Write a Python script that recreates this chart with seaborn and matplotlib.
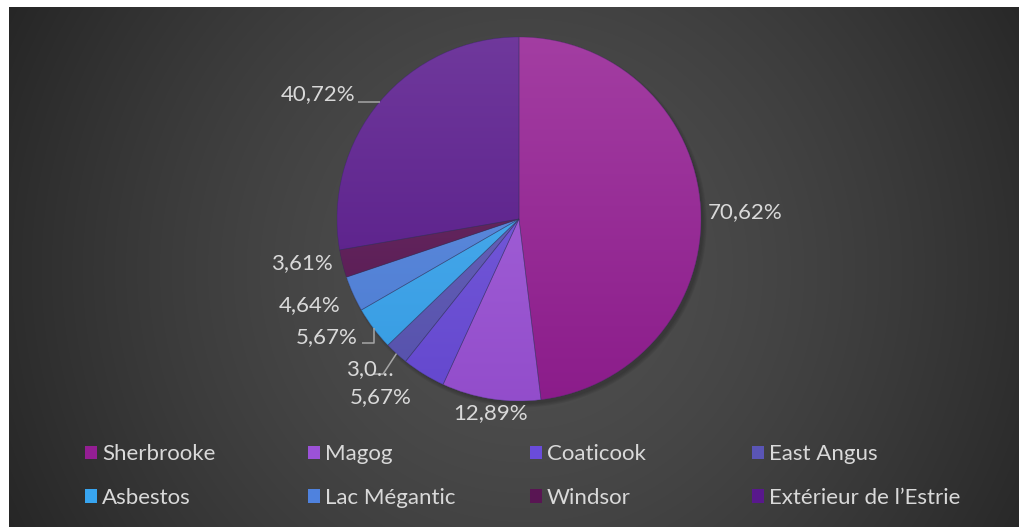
import numpy as np
import matplotlib
matplotlib.use("Agg")
import matplotlib.pyplot as plt
import matplotlib.colors as mcolors
from matplotlib.patches import Circle
import seaborn as sns

# donnees du graphique
villes = ["Sherbrooke", "Magog", "Coaticook", "East Angus",
          "Asbestos", "Lac Mégantic", "Windsor", "Extérieur de l\u2019Estrie"]
valeurs = [70.62, 12.89, 5.67, 3.09, 5.67, 4.64, 3.61, 40.72]
couleurs = ["#941E93", "#9C52D8", "#6A4CDB", "#5A55B6",
            "#38A5F0", "#4F82DE", "#591553", "#58188C"]

etiquettes = [f"{v:.2f}%".replace(".", ",") for v in valeurs]
etiquettes[3] = etiquettes[3][:3] + "\u2026"   # tronquee comme dans Excel

# position des etiquettes (unites du rayon)
pos_etiq = [(1.242, 0.038), (-0.159, -1.066), (-0.758, -0.978), (-0.819, -0.824),
            (-1.055, -0.648), (-1.148, -0.473), (-1.192, -0.242), (-1.104, 0.687)]

sns.set_theme(style="white")
plt.rcParams["font.family"] = ["Lato", "DejaVu Sans"]
gris_txt = "#D9D9D9"
W, H = 1019, 527
fig = plt.figure(figsize=(W / 100, H / 100), dpi=100, facecolor="white")

# fond en degrade radial
bg = fig.add_axes([9 / W, 0, 1 - 9 / W, 520 / H])
xx, yy = np.meshgrid(np.arange(9, W), np.arange(7, H))
d = np.hypot(xx - 525, yy - 270) / 580
v = (80 - 42 * np.clip(d, 0, 1.2) ** 1.5) / 255
bg.imshow(np.dstack([v, v, v]), aspect="auto", extent=(0, 1, 0, 1), origin="upper")
bg.set_axis_off()

# camembert
cx, cy, R = 519, 219, 182
half = 1.1 * R
ax = fig.add_axes([(cx - half) / W, (H - cy - half) / H, 2 * half / W, 2 * half / H])
ax.set_xlim(-1.1, 1.1)
ax.set_ylim(-1.1, 1.1)
ax.set_axis_off()

# ombre douce vers le bas a droite
for k in range(4):
    ax.add_patch(Circle((0.018, -0.022), 0.995 + k * 0.006, color="black",
                        alpha=0.06, lw=0, zorder=0))

wedges, _ = ax.pie(valeurs, colors=sns.color_palette(couleurs), startangle=90,
                   counterclock=False, radius=1.0,
                   wedgeprops=dict(linewidth=0, zorder=1))

# degrade vertical dans chaque part
t = np.linspace(0, 1, 256)[:, None]
for w, c in zip(wedges, couleurs):
    rgb = np.array(mcolors.to_rgb(c))
    haut = rgb + (1 - rgb) * 0.14
    bas = rgb * 0.94
    img = haut[None, None, :] * (1 - t[..., None]) + bas[None, None, :] * t[..., None]
    img = np.repeat(img, 4, axis=1)
    im = ax.imshow(img, extent=(-1, 1, -1, 1), origin="upper", zorder=2,
                   aspect="auto", interpolation="bilinear")
    im.set_clip_path(w)

# traits entre les parts
ax.pie(valeurs, colors=["none"] * len(valeurs), startangle=90, counterclock=False,
       radius=1.0, wedgeprops=dict(linewidth=0.5, edgecolor=(0.2, 0.2, 0.35, 0.45),
                                   zorder=3))
ax.set_xlim(-1.1, 1.1)
ax.set_ylim(-1.1, 1.1)

for (x, y), txt in zip(pos_etiq, etiquettes):
    ax.text(x, y, txt, ha="center", va="center", fontsize=16, color=gris_txt,
            zorder=5, clip_on=False)

# lignes de rappel
def bord(i):
    w = wedges[i]
    a = np.deg2rad((w.theta1 + w.theta2) / 2)
    return np.cos(a), np.sin(a)

lc = dict(color="#A6A6A6", lw=1.1, zorder=4, clip_on=False, solid_capstyle="butt")
x0, y0 = bord(7)
ax.plot([x0, -0.885], [y0, y0], **lc)
x0, y0 = bord(4)
ax.plot([x0, x0, -0.863], [y0, -0.681, -0.681], **lc)
x0, y0 = bord(3)
ax.plot([x0, -0.747, -0.80], [y0, -0.852, -0.852], **lc)

# legende sur 4 colonnes, 2 rangees
col_x = [85, 308, 530, 752]
for j in range(4):
    hs = [wedges[j], wedges[j + 4]]
    labs = [villes[j], villes[j + 4]]
    leg = fig.legend(hs, labs, loc="center left", bbox_to_anchor=(col_x[j] / W, 1 - 476 / H),
                     frameon=False, fontsize=16, labelcolor=gris_txt,
                     handlelength=0.55, handleheight=0.55, handletextpad=0.22,
                     labelspacing=1.05, borderpad=0, borderaxespad=0)
    for h, c in zip(leg.legend_handles, [couleurs[j], couleurs[j + 4]]):
        h.set_facecolor(c)
        h.set_edgecolor("none")

fig.savefig("out.png", dpi=100, facecolor="white")
